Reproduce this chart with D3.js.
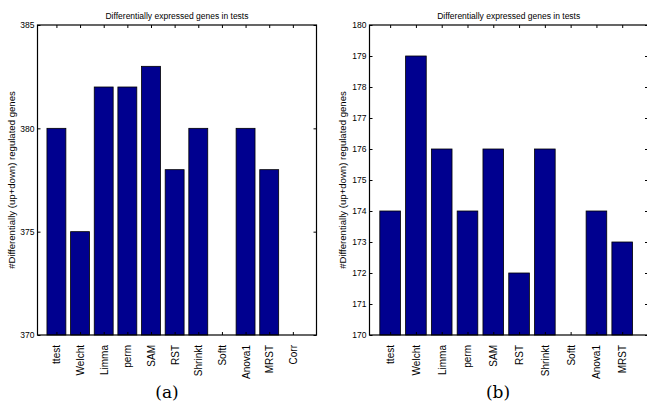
<!DOCTYPE html>
<html>
<head>
<meta charset="utf-8">
<script src="https://cdn.jsdelivr.net/npm/d3@7"></script>
<style>
  body { margin: 0; background: #fff; }
  text { font-family: "Liberation Sans", Arial, sans-serif; fill: #000; }
</style>
</head>
<body>
<div class="chart"></div>
<script>
// panel (a)
const testsA = ['ttest', 'Welcht', 'Limma', 'perm', 'SAM', 'RST', 'Shrinkt', 'Softt', 'Anova1', 'MRST', 'Corr']
const countsA = [380, 375, 382, 382, 383, 378, 380, 370, 380, 378, 370]
const yTicksA = [370, 375, 380, 385]

// panel (b)
const testsB = ['ttest', 'Welcht', 'Limma', 'perm', 'SAM', 'RST', 'Shrinkt', 'Softt', 'Anova1', 'MRST']
const countsB = [174, 179, 176, 174, 176, 172, 176, 170, 174, 173]
const yTicksB = [170, 171, 172, 173, 174, 175, 176, 177, 178, 179, 180]

const title = 'Differentially expressed genes in tests'
const yTitle = '#Differentially (up+down) regulated genes'

const svg = d3.select('.chart')
    .append('svg')
    .attr('width', 647)
    .attr('height', 404)

function drawPanel(p) {
    const x = d3.scaleLinear().domain(p.xDomain).range([p.left, p.right])
    const y = d3.scaleLinear().domain([p.yTicks[0], p.yTicks[p.yTicks.length - 1]]).range([335, 25])
    const base = p.yTicks[0]
    const idx = d3.range(1, p.cats.length + 1)
    const barW = x(0.8) - x(0)

    const g = svg.append('g')

    // bars
    g.selectAll('rect.bar')
        .data(p.vals)
        .join('rect')
        .attr('class', 'bar')
        .attr('x', (d, i) => x(i + 1) - barW / 2)
        .attr('width', barW)
        .attr('y', d => y(d))
        .attr('height', d => y(base) - y(d))
        .attr('fill', '#00008f')
        .attr('stroke', '#000')
        .attr('stroke-width', 0.8)

    // box
    g.append('rect')
        .attr('x', p.left)
        .attr('y', 25)
        .attr('width', p.right - p.left)
        .attr('height', 310)
        .attr('fill', 'none')
        .attr('stroke', '#000')
        .attr('stroke-width', 1.2)

    // bottom axis with category names
    const bottom = g.append('g')
        .attr('transform', 'translate(0,335)')
        .call(d3.axisBottom(x).tickValues(idx).tickFormat(i => p.cats[i - 1]).tickSize(-3).tickSizeOuter(0))
    bottom.selectAll('text')
        .attr('transform', 'rotate(-90)')
        .attr('x', -10)
        .attr('y', 0)
        .attr('dy', '0.35em')
        .attr('text-anchor', 'end')
        .style('font-size', '10px')

    // top ticks
    g.append('g')
        .attr('transform', 'translate(0,25)')
        .call(d3.axisTop(x).tickValues(idx).tickFormat('').tickSize(-3).tickSizeOuter(0))

    // left axis
    g.append('g')
        .attr('transform', `translate(${p.left},0)`)
        .call(d3.axisLeft(y).tickValues(p.yTicks).tickFormat(d3.format('d')).tickSize(-3).tickPadding(3).tickSizeOuter(0))
        .selectAll('text')
        .style('font-size', '8.5px')

    // right ticks
    g.append('g')
        .attr('transform', `translate(${p.right},0)`)
        .call(d3.axisRight(y).tickValues(p.yTicks).tickFormat('').tickSize(-3).tickSizeOuter(0))

    g.selectAll('.domain').remove()
    g.selectAll('.tick line').attr('stroke', '#000')

    // titles
    g.append('text')
        .attr('x', (p.left + p.right) / 2)
        .attr('y', 19)
        .attr('text-anchor', 'middle')
        .style('font-size', '8.5px')
        .text(title)

    g.append('text')
        .attr('transform', `translate(${p.yTitleX},180) rotate(-90)`)
        .attr('text-anchor', 'middle')
        .style('font-size', '9.6px')
        .text(yTitle)

    g.append('text')
        .attr('x', p.capX)
        .attr('y', 398)
        .attr('text-anchor', 'middle')
        .style('font-family', '"DejaVu Serif", "Liberation Serif", serif')
        .style('font-size', '17px')
        .text(p.caption)
}

drawPanel({ cats: testsA, vals: countsA, yTicks: yTicksA, xDomain: [0.2, 12], left: 37.5, right: 316.5, yTitleX: 15, capX: 167, caption: '(a)' })
drawPanel({ cats: testsB, vals: countsB, yTicks: yTicksB, xDomain: [0.2, 11], left: 369.5, right: 648, yTitleX: 346, capX: 498, caption: '(b)' })
</script>
</body>
</html>
